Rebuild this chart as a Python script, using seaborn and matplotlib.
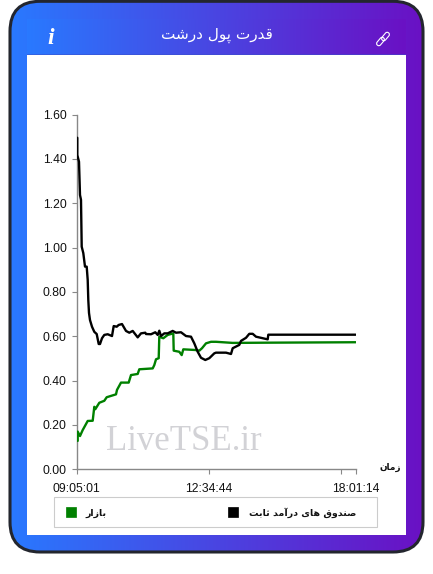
import numpy as np
import pandas as pd
import seaborn as sns
import matplotlib
matplotlib.use("Agg")
import matplotlib.pyplot as plt
from matplotlib.patches import FancyBboxPatch, Rectangle, Patch
from matplotlib.colors import LinearSegmentedColormap
from matplotlib.transforms import Affine2D

TITLE = "قدرت پول درشت"
SERIES_FUND = "صندوق های درآمد ثابت"
SERIES_MARKET = "بازار"
XLABEL = "زمان"
WATERMARK = "LiveTSE.ir"
Y_TICKS = [0.0, 0.2, 0.4, 0.6, 0.8, 1.0, 1.2, 1.4, 1.6]
X_TICKS = [0, 132, 264.6, 279]
X_LABELS = ["09:05:01", "12:34:44", "", "18:01:14"]

fund_x = [0.6, 0.6, 2.3, 3.3, 4.3, 5, 6.6, 8.3, 10, 11, 11.6, 12.3, 13.3, 15.3, 17.6, 20, 22, 23.3, 25.3, 27.6, 31,
          35.3, 37, 40, 42, 45.3, 49.3, 52.6, 56, 61, 64.3, 68.6, 69.3, 74.3, 78.6, 81, 82.6, 84.3, 87.6, 91, 96,
          99.3, 104.3, 109.3, 114.3, 117.6, 121, 124.3, 128.6, 132.6, 137.6, 139.3, 149.3, 154.3, 156, 162.6,
          164.3, 169.3, 172.6, 176, 179.3, 191, 191.6, 279]
fund_y = [1.495, 1.417, 1.387, 1.237, 1.215, 1.004, .975, .914, .914, .854, .763, .705, .673, .643, .620, .610,
          .565, .565, .591, .606, .609, .601, .646, .643, .651, .655, .624, .616, .624, .595, .613, .616, .610,
          .609, .618, .606, .625, .601, .613, .613, .624, .616, .618, .601, .598, .568, .530, .503, .493, .501,
          .523, .526, .526, .520, .546, .561, .579, .593, .611, .611, .598, .586, .607, .607]
market_x = [1, 1, 3.3, 6, 11, 16, 17.6, 18.6, 22.6, 27.6, 30, 39.3, 40.3, 44.3, 52, 54.3, 61, 62.6, 76, 77.6, 79.3,
            82, 82.6, 86.6, 91, 96.6, 97, 102.6, 105, 106.6, 118.6, 122.6, 125.3, 129.3, 134.3, 139.3, 156, 191, 279]
market_y = [.128, .170, .150, .177, .218, .219, .282, .271, .300, .309, .325, .338, .358, .391, .391, .425, .430,
            .451, .455, .470, .496, .501, .598, .591, .606, .613, .535, .530, .515, .541, .538, .535, .546, .568,
            .575, .575, .570, .571, .573]

FORMS = {
    "ق": (0xFED5, 0xFED6, 0xFED7, 0xFED8), "ت": (0xFE95, 0xFE96, 0xFE97, 0xFE98),
    "ث": (0xFE99, 0xFE9A, 0xFE9B, 0xFE9C), "ب": (0xFE8F, 0xFE90, 0xFE91, 0xFE92),
    "پ": (0xFB56, 0xFB57, 0xFB58, 0xFB59), "ل": (0xFEDD, 0xFEDE, 0xFEDF, 0xFEE0),
    "ش": (0xFEB5, 0xFEB6, 0xFEB7, 0xFEB8), "ص": (0xFEB9, 0xFEBA, 0xFEBB, 0xFEBC),
    "ن": (0xFEE5, 0xFEE6, 0xFEE7, 0xFEE8), "ه": (0xFEE9, 0xFEEA, 0xFEEB, 0xFEEC),
    "ی": (0xFBFC, 0xFBFD, 0xFBFE, 0xFBFF), "م": (0xFEE1, 0xFEE2, 0xFEE3, 0xFEE4),
    "د": (0xFEA9, 0xFEAA), "ر": (0xFEAD, 0xFEAE), "ز": (0xFEAF, 0xFEB0),
    "و": (0xFEED, 0xFEEE), "ا": (0xFE8D, 0xFE8E), "آ": (0xFE81, 0xFE82),
}


def shape(text):
    out = []
    for i, c in enumerate(text):
        if c not in FORMS:
            out.append(c)
            continue
        prev = text[i - 1] if i else " "
        nxt = text[i + 1] if i + 1 < len(text) else " "
        joins_prev = prev in FORMS and len(FORMS[prev]) == 4
        joins_next = nxt in FORMS and len(FORMS[c]) == 4
        idx = (3 if joins_next else 1) if joins_prev else (2 if joins_next else 0)
        out.append(chr(FORMS[c][idx]))
    return "".join(reversed(out))


sns.set_theme(style="ticks")
plt.rcParams["font.family"] = ["Liberation Sans", "DejaVu Sans"]
W, H = 433, 574
fig = plt.figure(figsize=(W / 100, H / 100), dpi=100, facecolor="white")

bg = fig.add_axes([0, 0, 1, 1], zorder=0)
bg.axis("off")
cmap = LinearSegmentedColormap.from_list("card", ["#2979ff", "#6a11c4"])
grad = np.linspace(0, 1, 256)[None, :]
card = FancyBboxPatch((10, 1.3), 413, 550.7, boxstyle="round,pad=0,rounding_size=30",
                      fc="none", ec="#23262e", lw=2.2, zorder=5)
bg.add_patch(card)
im = bg.imshow(grad, cmap=cmap, extent=[10, 423, 552, 1], aspect="auto", zorder=1)
im.set_clip_path(card)
bg.imshow(grad, cmap=cmap, extent=[27, 406, 55, 19], aspect="auto", zorder=2)
bg.add_patch(Rectangle((27, 54.3), 379, 0.8, fc="#3a50c8", ec="none", alpha=0.5, zorder=2))
bg.add_patch(Rectangle((27, 55), 379, 480, fc="white", ec="none", zorder=3))
bg.add_patch(Rectangle((54.3, 497.3), 322.7, 29.4, fc="white", ec="#cccccc", lw=0.8, zorder=4))
bg.set_xlim(0, W)
bg.set_ylim(H, 0)

bg.text(217, 35.5, shape(TITLE), color="white", fontsize=11, family="DejaVu Sans",
        ha="center", va="center", zorder=6)
bg.text(51, 38, "i", color="white", fontsize=17, family="Liberation Serif", style="italic",
        weight="bold", ha="center", va="center", zorder=6)
for cx, cy in [(380.5, 41.5), (385.5, 36.5)]:
    tr = Affine2D().rotate_deg_around(cx, cy, -50) + bg.transData
    bg.add_patch(FancyBboxPatch((cx - 4.8, cy - 2.2), 9.6, 4.4, boxstyle="round,pad=0,rounding_size=2.2",
                                fc="none", ec="white", lw=0.8, transform=tr, zorder=6))

ax = fig.add_axes([76.7 / W, 1 - 469.3 / H, 279 / W, 354.8 / H], zorder=2)
ax.patch.set_alpha(0)
ax.text(107, 0.125, WATERMARK, color="#d2d2d6", fontsize=25, family="Liberation Serif",
        ha="center", va="center", zorder=1)
market = pd.DataFrame({"x": market_x, "y": market_y})
fund = pd.DataFrame({"x": fund_x, "y": fund_y})
sns.lineplot(data=market, x="x", y="y", color="#008000", lw=1.7, sort=False, estimator=None, errorbar=None,
             ax=ax, zorder=3)
sns.lineplot(data=fund, x="x", y="y", color="#000000", lw=1.7, sort=False, estimator=None, errorbar=None,
             ax=ax, zorder=4)
ax.set_xlim(0, 279)
ax.set_ylim(0, 1.6)
ax.set_xticks(X_TICKS, X_LABELS)
ax.set_yticks(Y_TICKS, [f"{v:.2f}" for v in Y_TICKS])
ax.set_xlabel("")
ax.set_ylabel("")
ax.tick_params(length=3.6, width=0.8, color="#888888", labelsize=8.7, labelcolor="#111111", pad=3.6)
ax.tick_params(axis="x", pad=6)
for s in ("top", "right"):
    ax.spines[s].set_visible(False)
for s in ("left", "bottom"):
    ax.spines[s].set_color("#888888")
    ax.spines[s].set_linewidth(1)

fig.text(390 / W, 1 - 467 / H, shape(XLABEL), fontsize=6.4, weight="bold", family="DejaVu Sans",
         color="#111111", ha="center", va="center")

leg = fig.legend(
    handles=[Patch(fc="#008000", ec="#008000", lw=0.5, label=shape(SERIES_MARKET)),
             Patch(fc="#000000", ec="#000000", lw=0.5, label=shape(SERIES_FUND))],
    loc="upper left", bbox_to_anchor=(65.5 / W, 1 - 507 / H), bbox_transform=fig.transFigure,
    ncol=2, fontsize=6.8, frameon=False, borderaxespad=0, borderpad=0,
    handlelength=1.06, handleheight=1.25, handletextpad=1.06, columnspacing=12.9)
leg.set_zorder(10)
for t in leg.get_texts():
    t.set_family("DejaVu Sans")
    t.set_weight("bold")
    t.set_color("#111111")

fig.savefig("out.png", dpi=100, facecolor="white")
